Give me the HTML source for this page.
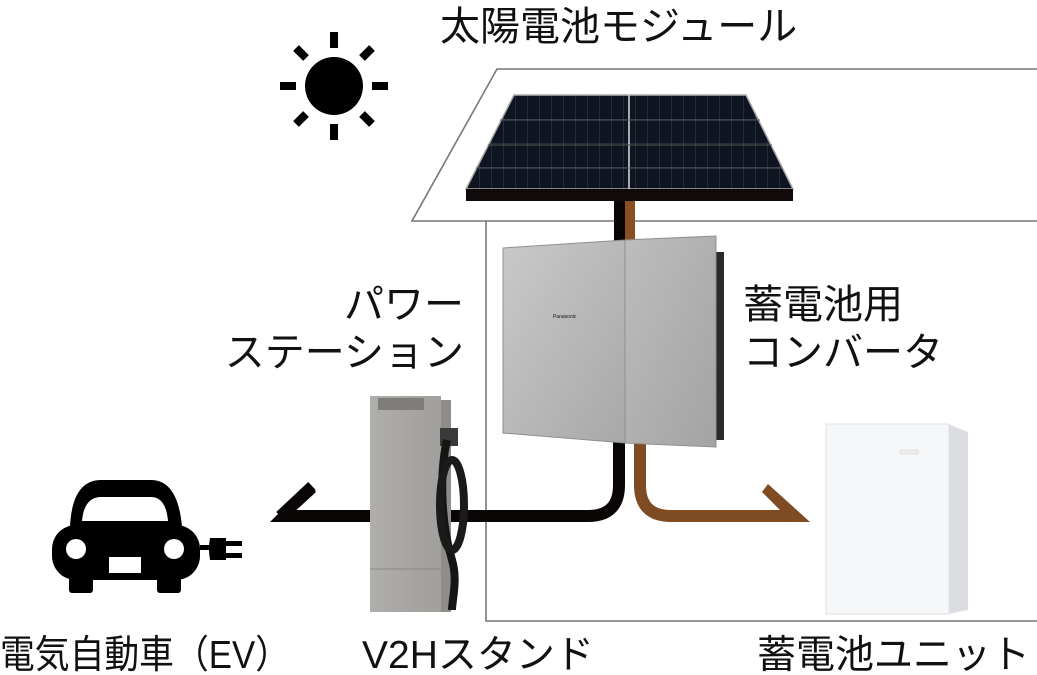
<!DOCTYPE html>
<html><head><meta charset="utf-8"><style>
html,body{margin:0;padding:0;background:#fff;}
svg{display:block;}
text{font-family:"Liberation Sans","Noto Sans CJK JP",sans-serif;fill:#111;}
</style></head><body>
<svg width="1037" height="675" viewBox="0 0 1037 675" xmlns="http://www.w3.org/2000/svg">
<defs>
<linearGradient id="conv" x1="0" y1="0" x2="1" y2="1"><stop offset="0" stop-color="#c9c9c9"/><stop offset="1" stop-color="#a8a8a8"/></linearGradient>
<linearGradient id="conv2" x1="0" y1="0" x2="1" y2="1"><stop offset="0" stop-color="#bdbdbd"/><stop offset="1" stop-color="#a3a3a3"/></linearGradient>
<linearGradient id="stand" x1="0" y1="0" x2="1" y2="0"><stop offset="0" stop-color="#b0aeab"/><stop offset="1" stop-color="#a19f9c"/></linearGradient>
<pattern id="cells" width="12" height="24" patternUnits="userSpaceOnUse"><rect width="12" height="24" fill="#0e1520"/><path d="M11.5 0V24M0 23.5H12" stroke="#2e3644" stroke-width="0.7"/></pattern>
</defs>
<path d="M1037 69 H497 L412 221 H1037" fill="none" stroke="#777" stroke-width="1.6"/>
<path d="M486 221 V621 H1037" fill="none" stroke="#777" stroke-width="1.6"/>
<rect x="614" y="200" width="11" height="50" fill="#0a0606"/>
<rect x="625" y="200" width="10" height="50" fill="#8a4f20"/>
<polygon points="514,95 746,95 793,189 466,189" fill="url(#cells)" stroke="#aaa" stroke-width="1.5"/>
<line x1="629" y1="95" x2="629" y2="189" stroke="#ddd" stroke-width="1.5"/>
<line x1="500" y1="120" x2="760" y2="120" stroke="#555" stroke-width="1"/>
<line x1="488" y1="145" x2="772" y2="145" stroke="#555" stroke-width="1"/>
<line x1="476" y1="168" x2="782" y2="168" stroke="#555" stroke-width="1"/>
<rect x="466" y="189" width="327" height="12" fill="#100a0a"/>
<path d="M619 440 V485 Q619 516 588 516 H285" fill="none" stroke="#0a0606" stroke-width="12"/>
<path d="M312 486 L280 516" fill="none" stroke="#0a0606" stroke-width="11"/>
<polygon points="270,522 308,484 316,492 290,516 290,522" fill="#0a0606"/>
<path d="M640 440 V485 Q640 516 671 516 H795" fill="none" stroke="#7e4b22" stroke-width="12"/>
<polygon points="768,484 810,522 792,522 762,492" fill="#7e4b22"/>
<rect x="714" y="252" width="10" height="188" fill="#2a2a2a"/>
<polygon points="503,248 625,240 625,443 503,433" fill="url(#conv)" stroke="#8f8f8f" stroke-width="1"/>
<polygon points="625,240 716,236 716,447 625,443" fill="url(#conv2)" stroke="#8f8f8f" stroke-width="1"/>
<text x="553" y="318" font-size="5" fill="#445">Panasonic</text>
<rect x="440" y="400" width="11" height="212" fill="#8f8d8a"/>
<rect x="370" y="396" width="71" height="216" fill="url(#stand)"/>
<rect x="378" y="398" width="46" height="12" fill="#7f7d7a"/>
<line x1="370" y1="569" x2="441" y2="569" stroke="#888" stroke-width="1"/>
<rect x="440" y="428" width="18" height="18" fill="#3a3a3a"/>
<path d="M447 440 C440 470 440 520 452 560 C458 580 452 600 452 610" fill="none" stroke="#151515" stroke-width="8"/>
<ellipse cx="452" cy="505" rx="12" ry="45" fill="none" stroke="#1a1a1a" stroke-width="8"/>
<polygon points="948,424 968,432 968,610 948,614" fill="#dcdde0"/>
<rect x="826" y="424" width="123" height="190" fill="#f6f7f8" stroke="#e0e0e2" stroke-width="1"/>
<rect x="900" y="450" width="18" height="4" fill="#eee" stroke="#ccc" stroke-width="0.5"/>
<circle cx="334" cy="86" r="29" fill="#000"/>
<g stroke="#000" stroke-width="8">
<line x1="334" y1="32" x2="334" y2="48"/><line x1="334" y1="124" x2="334" y2="140"/>
<line x1="280" y1="86" x2="296" y2="86"/><line x1="372" y1="86" x2="388" y2="86"/>
<line x1="296" y1="48" x2="306" y2="58"/><line x1="362" y1="58" x2="372" y2="48"/>
<line x1="296" y1="124" x2="306" y2="114"/><line x1="362" y1="114" x2="372" y2="124"/>
</g>
<g fill="#000">
<path d="M70 527 Q72 481 100 480 H152 Q178 481 182 527 Z"/>
<rect x="52" y="525" width="148" height="55" rx="24"/>
<rect x="69" y="574" width="24" height="19" rx="3"/>
<rect x="157" y="574" width="24" height="19" rx="3"/>
<rect x="200" y="545" width="10" height="5"/>
<path d="M210 538 H226 V560 H210 Q208 549 210 538Z"/>
<rect x="226" y="541" width="16" height="5"/><rect x="226" y="553" width="16" height="5"/>
</g>
<path d="M82 521 Q84 498 100 497 H152 Q166 498 168 521 Z" fill="#fff"/>
<circle cx="76" cy="549" r="10" fill="#fff"/><circle cx="174" cy="549" r="10" fill="#fff"/>
<rect x="109" y="557" width="32" height="16" fill="#fff"/>
<text x="440" y="40" font-size="40">太陽電池モジュール</text>
<text x="464" y="318" font-size="40" text-anchor="end">パワー</text>
<text x="464" y="366" font-size="40" text-anchor="end">ステーション</text>
<text x="743" y="318" font-size="40">蓄電池用</text>
<text x="743" y="366" font-size="40">コンバータ</text>
<text x="0" y="668" font-size="39" textLength="290" lengthAdjust="spacingAndGlyphs">電気自動車（EV）</text>
<text x="362" y="668" font-size="39">V2Hスタンド</text>
<text x="757" y="668" font-size="39">蓄電池ユニット</text>
</svg>
</body></html>
